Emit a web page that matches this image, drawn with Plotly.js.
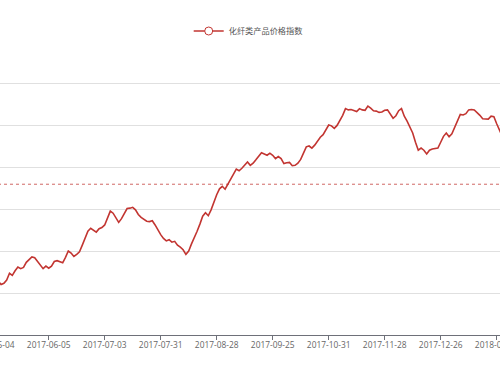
<!DOCTYPE html>
<html>
<head>
<meta charset="utf-8">
<script src="https://cdn.plot.ly/plotly-3.0.1.min.js"></script>
<style>
html, body { margin: 0; padding: 0; overflow: hidden; background: #fff; width: 500px; height: 375px; }
#chart { position: absolute; left: -50px; top: 0; width: 600px; height: 375px; }
</style>
</head>
<body>
<div id="chart"></div>
<script>
// Series name
const seriesName = '化纤类产品价格指数';

// Tick labels (every 20th trading day, starting with the first point)
const tickLabels = ['2017-05-04', '2017-06-05', '2017-07-03', '2017-07-31', '2017-08-28',
  '2017-09-25', '2017-10-31', '2017-11-28', '2017-12-26', '2018-01-23'];
const tickStep = 20;

// Index values (one per trading day)
const values = [
  73.3, 73.7, 72.8, 72.0, 72.3, 73.1, 74.7, 74.2, 75.3, 76.2,
  75.8, 76.1, 77.3, 77.9, 78.6, 78.4, 77.5, 76.8, 75.8, 76.4,
  75.9, 76.4, 77.5, 77.7, 77.4, 77.2, 78.5, 80.0, 79.5, 78.7,
  79.2, 79.8, 81.4, 82.9, 84.7, 85.4, 84.9, 84.5, 85.3, 85.6,
  86.2, 87.8, 89.5, 89.0, 87.9, 86.8, 87.7, 89.0, 90.1, 90.2,
  90.4, 89.8, 88.7, 88.0, 87.5, 87.1, 87.0, 87.2, 86.2, 85.0,
  83.9, 83.0, 82.4, 82.7, 82.1, 82.3, 81.4, 80.9, 80.3, 79.2,
  80.0, 81.7, 83.1, 84.7, 86.4, 88.3, 89.1, 88.4, 89.8, 91.7,
  93.4, 94.8, 95.4, 94.7, 95.8, 97.1, 98.3, 99.5, 99.1, 99.7,
  100.6, 101.2, 100.4, 100.9, 101.7, 102.7, 103.4, 103.1, 102.8, 103.3,
  102.8, 102.0, 102.5, 102.0, 100.8, 101.0, 101.1, 100.3, 100.4, 100.9,
  101.8, 103.3, 104.8, 105.0, 104.5, 105.2, 106.2, 107.1, 107.7, 108.9,
  110.0, 109.8, 109.2, 109.9, 111.0, 112.3, 113.9, 113.6, 113.7, 113.5,
  113.2, 113.9, 113.6, 113.5, 114.5, 114.0, 113.4, 113.3, 113.0, 113.1,
  113.5, 113.6, 112.7, 111.6, 112.2, 113.4, 113.9, 112.1, 110.9, 109.5,
  108.1, 105.9, 104.0, 104.5, 104.0, 103.1, 104.0, 104.3, 104.4, 104.5,
  105.9, 107.3, 108.1, 107.2, 107.9, 109.5, 110.9, 112.5, 112.4, 112.7,
  113.6, 113.7, 113.6, 113.0, 112.3, 111.5, 111.5, 111.4, 112.1, 112.0,
  110.3, 108.7, 107.3
];

// Average (mark line) value
const avgValue = 95.9;

const lineColor = '#c23531';
const xIdx = values.map((_, i) => i);
const tickVals = tickLabels.map((_, k) => k * tickStep);

const traces = [
  {
    x: xIdx, y: values, type: 'scatter', mode: 'lines',
    line: { color: lineColor, width: 1.6 },
    showlegend: false, hoverinfo: 'skip'
  },
  {
    x: [null], y: [null], type: 'scatter', mode: 'lines+markers',
    name: seriesName,
    line: { color: lineColor, width: 1.4 },
    marker: { symbol: 'circle', size: 8, color: '#ffffff', line: { color: lineColor, width: 1 } },
    showlegend: true
  }
];

const layout = {
  width: 600, height: 375,
  margin: { l: 0, r: 0, t: 41, b: 40, pad: 0 },
  paper_bgcolor: '#ffffff', plot_bgcolor: '#ffffff',
  showlegend: true,
  legend: {
    orientation: 'h', x: 0.497, xanchor: 'center', y: 1.034, yanchor: 'middle',
    font: { family: 'Noto Sans CJK SC, sans-serif', size: 8.2, color: '#555' },
    itemwidth: 30, bgcolor: 'rgba(0,0,0,0)'
  },
  xaxis: {
    type: 'linear',
    range: [-15.25, 199.04],
    tickmode: 'array', tickvals: tickVals, ticktext: tickLabels,
    ticks: 'outside', ticklen: 4, tickwidth: 1, tickcolor: '#6E7079',
    ticklabelstandoff: -2,
    showline: true, linecolor: '#6E7079', linewidth: 1,
    showgrid: false, zeroline: false,
    tickfont: { family: 'Open Sans, sans-serif', size: 8.4, color: '#666' }
  },
  yaxis: {
    range: [60, 130], dtick: 10, tick0: 60,
    showticklabels: false, ticks: '',
    showgrid: true, gridcolor: '#e0e0e0', gridwidth: 1,
    zeroline: false, showline: false
  },
  shapes: [{
    type: 'line', xref: 'paper', x0: 0, x1: 1, yref: 'y', y0: avgValue, y1: avgValue,
    line: { color: 'rgba(194,53,49,0.75)', width: 1, dash: '3px,3px' }
  }]
};

Plotly.newPlot('chart', traces, layout, { displayModeBar: false, staticPlot: true });
</script>
</body>
</html>
